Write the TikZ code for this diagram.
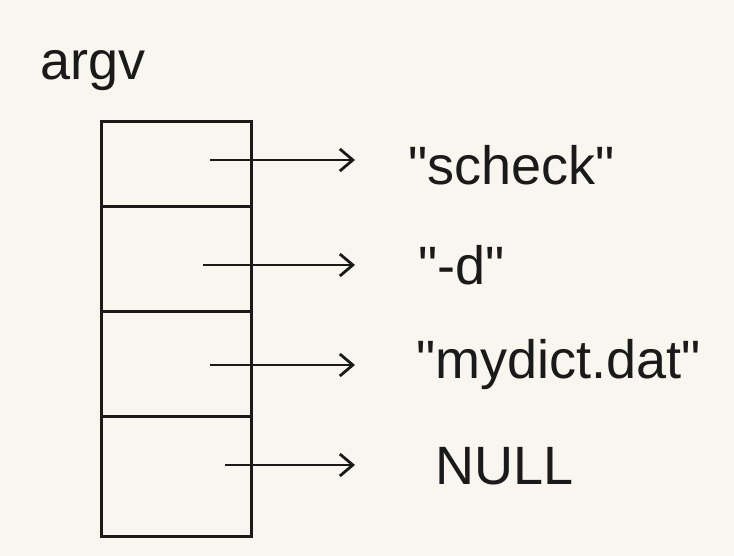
\documentclass[tikz,border=0pt]{standalone}
\usepackage{fontspec}
\setmainfont{Liberation Sans}[Ligatures=TeXOff]
\usetikzlibrary{arrows.meta}
\definecolor{paper}{HTML}{F8F6EF}
\definecolor{ink}{HTML}{1A1A1A}
\begin{document}
\begin{tikzpicture}[x=1pt,y=-1pt,
  cell/.style={draw=ink, line width=2.8pt, minimum width=150pt, inner sep=0pt, anchor=north west},
  lbl/.style={text=ink, font=\fontsize{54}{60}\selectfont, inner sep=0pt},
  arr/.style={draw=ink, line width=2.8pt, -{Straight Barb[length=13pt,width=22pt,line width=2.8pt]}}]
\fill[paper] (0,0) rectangle (734,556);
\useasboundingbox (0,0) rectangle (734,556);
\node[lbl, anchor=base west] (argv) at (40,80) {argv};
\node[cell, minimum height=85pt] (c1) at (100,120) {};
\node[cell, minimum height=105pt] (c2) at (100,205) {};
\node[cell, minimum height=105pt] (c3) at (100,310) {};
\node[cell, minimum height=120pt] (c4) at (100,415) {};
\node[lbl, anchor=west] (t1) at (408,165) {"scheck"};
\node[lbl, anchor=west] (t2) at (418,265) {"-d"};
\node[lbl, anchor=west] (t3) at (416,365) {"mydict.dat"};
\node[lbl, anchor=west] (t4) at (435,466) {NULL};
\coordinate (p1) at (210,160);
\coordinate (p2) at (203,265);
\coordinate (p3) at (210,365);
\coordinate (p4) at (225,465);
\draw[arr, shorten >=53pt] (p1) -- (p1 -| t1.west);
\draw[arr, shorten >=63pt] (p2) -- (p2 -| t2.west);
\draw[arr, shorten >=61pt] (p3) -- (p3 -| t3.west);
\draw[arr, shorten >=80pt] (p4) -- (p4 -| t4.west);
\end{tikzpicture}
\end{document}
